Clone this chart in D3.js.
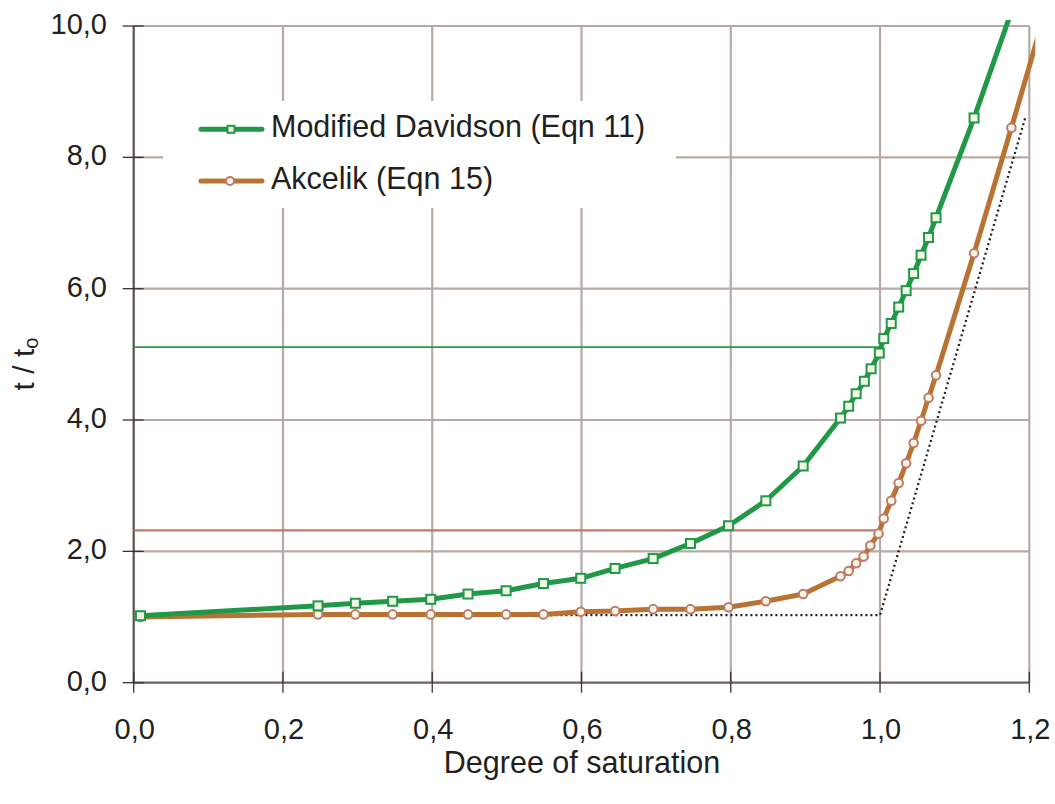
<!DOCTYPE html>
<html><head><meta charset="utf-8">
<script src="https://cdn.jsdelivr.net/npm/d3@7"></script>
<style>body{margin:0;background:#fff}svg{display:block}text{font-family:"Liberation Sans",Arial,sans-serif;fill:#231f20}</style>
</head><body><svg id="c" width="1055" height="804"></svg>
<script>
// ---- data ----
const xTicks = [0, 0.2, 0.4, 0.6, 0.8, 1.0, 1.2];
const yTicks = [0, 2, 4, 6, 8, 10];
const davidsonX = [0.009,0.247,0.297,0.347,0.398,0.448,0.499,0.549,0.599,0.645,0.696,0.746,0.797,0.847,0.897,0.947,0.958,0.968,0.979,0.988,0.999,1.005,1.015,1.025,1.035,1.045,1.055,1.065,1.075,1.126,1.176];
const davidsonY = [1.02,1.17,1.21,1.24,1.27,1.35,1.40,1.51,1.59,1.74,1.89,2.12,2.39,2.77,3.30,4.03,4.21,4.40,4.59,4.78,5.02,5.24,5.47,5.72,5.97,6.23,6.51,6.78,7.08,8.60,10.22];
const akcelikX = [0.009,0.247,0.297,0.347,0.398,0.448,0.499,0.549,0.599,0.645,0.696,0.746,0.797,0.847,0.897,0.947,0.958,0.968,0.978,0.987,0.998,1.005,1.015,1.025,1.035,1.045,1.055,1.065,1.075,1.126,1.176,1.226];
const akcelikY = [1.00,1.04,1.04,1.04,1.04,1.04,1.04,1.04,1.08,1.09,1.12,1.12,1.15,1.24,1.35,1.62,1.70,1.82,1.92,2.09,2.27,2.50,2.77,3.04,3.34,3.65,3.99,4.34,4.68,6.54,8.45,10.40];
const boundX = [0.009, 1.0, 1.195];
const boundY = [1.03, 1.03, 8.62];
const davidsonRef = 5.11;
const akcelikRef = 2.32;
const seriesNames = ["Modified Davidson (Eqn 11)", "Akcelik (Eqn 15)"];
const xTitle = "Degree of saturation";

// ---- layout ----
const L = 133.7, T = 26, R = 1029.3, B = 682.7;
const svg = d3.select("#c");
const x = d3.scaleLinear().domain([0, 1.2]).range([L, R]);
const y = d3.scaleLinear().domain([0, 10]).range([B, T]);
const fmt = d => d3.format(".1f")(d).replace(".", ",");

const gridC = "#b5aba4";
// grid
svg.append("g").selectAll("line").data(yTicks.slice(1)).join("line")
  .attr("x1", L).attr("x2", R).attr("y1", d => y(d)).attr("y2", d => y(d))
  .attr("stroke", gridC).attr("stroke-width", 2.2);
svg.append("g").selectAll("line").data(xTicks.slice(1)).join("line")
  .attr("y1", T).attr("y2", B).attr("x1", d => x(d)).attr("x2", d => x(d))
  .attr("stroke", gridC).attr("stroke-width", 2.2);

// legend background box (covers grid)
svg.append("rect").attr("x", 163).attr("y", 101).attr("width", 513).attr("height", 107).attr("fill", "#fff");

// axes lines
svg.append("line").attr("x1", L).attr("x2", L).attr("y1", T).attr("y2", B).attr("stroke", "#5a4f4c").attr("stroke-width", 2.2);
svg.append("line").attr("x1", L).attr("x2", R).attr("y1", B).attr("y2", B).attr("stroke", "#6d625e").attr("stroke-width", 2.2);
// ticks
svg.append("g").selectAll("line").data(yTicks).join("line")
  .attr("x1", L - 11).attr("x2", L + 10).attr("y1", d => y(d)).attr("y2", d => y(d))
  .attr("stroke", "#3a3230").attr("stroke-width", 1.3);
svg.append("g").selectAll("line").data(xTicks).join("line")
  .attr("y1", B - 11).attr("y2", B + 10).attr("x1", d => x(d)).attr("x2", d => x(d))
  .attr("stroke", "#3a3230").attr("stroke-width", 1.3);

// tick labels
svg.append("g").selectAll("text").data(yTicks).join("text")
  .attr("x", 107).attr("y", d => y(d) + 8).attr("text-anchor", "end")
  .attr("font-size", 29).text(fmt);
svg.append("g").selectAll("text").data(xTicks).join("text")
  .attr("x", d => x(d) + 1).attr("y", d => B + 56).attr("text-anchor", "middle")
  .attr("font-size", 29).text(fmt);

// axis titles
svg.append("text").attr("x", 582).attr("y", 773).attr("text-anchor", "middle").attr("font-size", 30.5).text(xTitle);
const yt = svg.append("text").attr("transform", "translate(34,364) rotate(-90)").attr("text-anchor", "middle").attr("font-size", 30);
yt.append("tspan").text("t / t");
yt.append("tspan").attr("font-size", 20).attr("dy", 4).text("o");

// clip
svg.append("clipPath").attr("id", "clip").append("rect")
  .attr("x", L - 6).attr("y", T - 6).attr("width", R - L + 12).attr("height", B - T + 12);
const plot = svg.append("g").attr("clip-path", "url(#clip)");

const green = "#219848", greenRef = "#2a9a48";
const brown = "#b87332", brownMk = "#c07a6a", brownRef = "#c27a66";
const mkFill = "#f2f6e4";

// reference horizontal lines
plot.append("line").attr("x1", L).attr("x2", x(1.0)).attr("y1", y(davidsonRef)).attr("y2", y(davidsonRef))
  .attr("stroke", greenRef).attr("stroke-width", 1.6);
plot.append("line").attr("x1", L).attr("x2", x(1.0)).attr("y1", y(akcelikRef)).attr("y2", y(akcelikRef))
  .attr("stroke", brownRef).attr("stroke-width", 2.2);

// dotted bound
const line = d3.line().x(d => x(d[0])).y(d => y(d[1]));
plot.append("path").datum(boundX.map((v, i) => [v, boundY[i]])).attr("d", line)
  .attr("fill", "none").attr("stroke", "#1a1a1a").attr("stroke-width", 2.2)
  .attr("stroke-dasharray", "2,3");

const dav = davidsonX.map((v, i) => [v, davidsonY[i]]);
const akc = akcelikX.map((v, i) => [v, akcelikY[i]]);

plot.append("path").datum(akc).attr("d", line).attr("fill", "none").attr("stroke", brown).attr("stroke-width", 5).attr("stroke-linejoin", "round");
plot.append("path").datum(dav).attr("d", line).attr("fill", "none").attr("stroke", green).attr("stroke-width", 5).attr("stroke-linejoin", "round");

plot.append("g").selectAll("circle").data(akc).join("circle")
  .attr("cx", d => x(d[0])).attr("cy", d => y(d[1])).attr("r", 4.3)
  .attr("fill", mkFill).attr("stroke", brownMk).attr("stroke-width", 2);
plot.append("g").selectAll("rect").data(dav).join("rect")
  .attr("x", d => x(d[0]) - 4.5).attr("y", d => y(d[1]) - 4.5).attr("width", 9).attr("height", 9)
  .attr("fill", mkFill).attr("stroke", green).attr("stroke-width", 2);

// legend
const lg = svg.append("g");
const legY = [129.3, 181];
const legC = [green, brown];
legY.forEach((ly, i) => {
  lg.append("line").attr("x1", 201).attr("x2", 262).attr("y1", ly).attr("y2", ly)
    .attr("stroke", legC[i]).attr("stroke-width", 5).attr("stroke-linecap", "round");
  if (i === 0) lg.append("rect").attr("x", 231 - 3.5).attr("y", ly - 3.5).attr("width", 7).attr("height", 7)
    .attr("fill", mkFill).attr("stroke", green).attr("stroke-width", 2);
  else lg.append("circle").attr("cx", 230).attr("cy", ly).attr("r", 4).attr("fill", mkFill).attr("stroke", brownMk).attr("stroke-width", 2);
  lg.append("text").attr("x", 271).attr("y", ly + 7.5).attr("font-size", 30.5).text(seriesNames[i]);
});
</script></body></html>
